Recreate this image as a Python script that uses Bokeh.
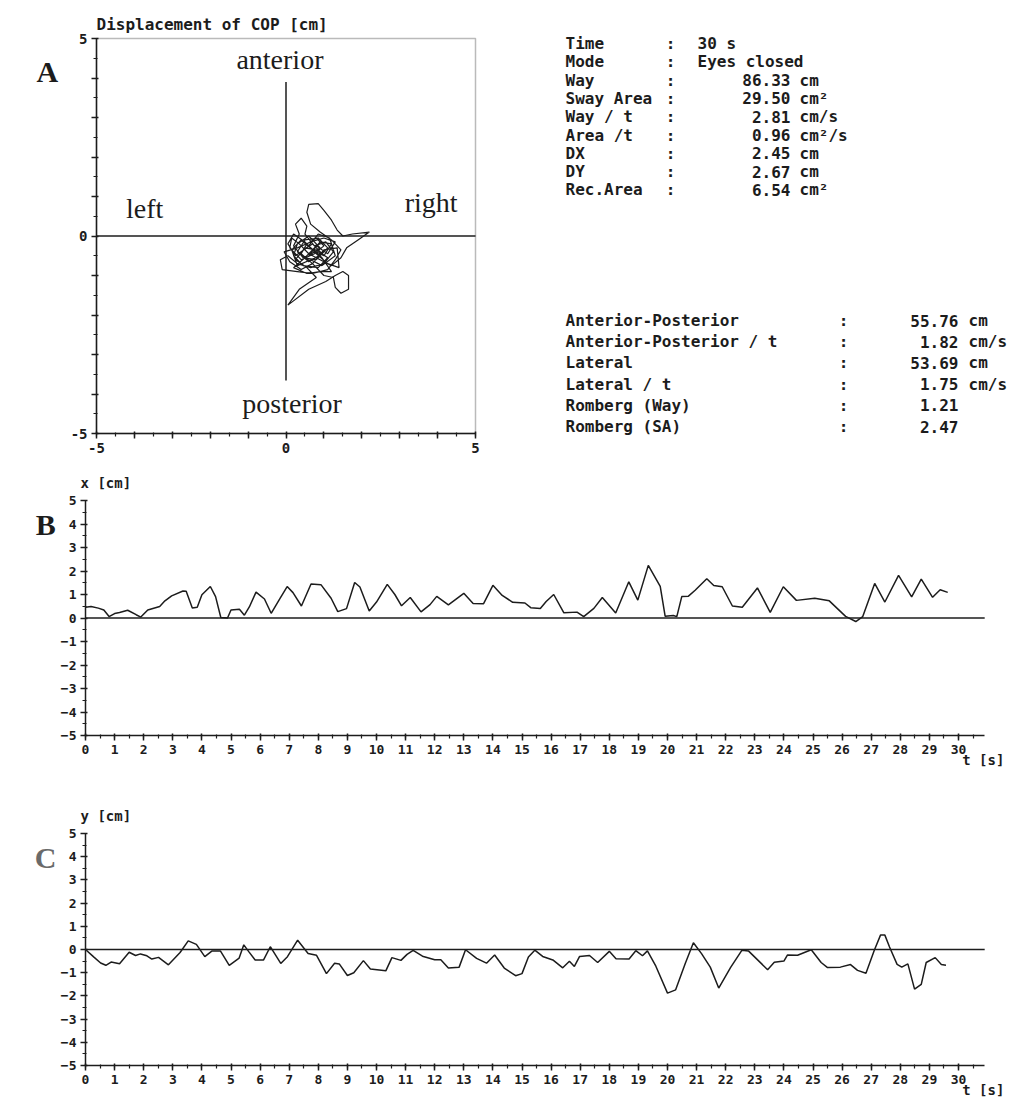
from bokeh.plotting import figure
from bokeh.layouts import column, row
from bokeh.models import Range1d, FixedTicker, Label, LinearAxis, BoxAnnotation
from bokeh.embed import file_html
from bokeh.resources import INLINE
from bokeh.core.properties import value

# ---------------- data ----------------
# Panel A: centre-of-pressure trajectory [cm]
cop_x = [0.45, 0.7, 0.95, 0.6, 0.3, 0.5, 0.85, 1.1, 0.8, 0.45, 0.2, 0.35, 0.25, 0.4, 0.55, 0.5,
         0.75, 1.05, 1.25, 1.0, 0.65, 0.3, 0.05, -0.15, -0.1, 0.3, 0.7, 1.1, 1.3, 1.45, 1.2, 0.9,
         0.65, 0.55, 0.6, 0.85, 1.0, 1.2, 1.35, 1.5, 1.75, 2.2, 1.9, 1.6, 1.45, 1.2, 0.9, 0.6,
         0.35, 0.15, 0.1, 0.4, 0.75, 1.0, 0.8, 0.55, 0.4, 0.7, 1.0, 1.25, 1.3, 1.45, 1.65, 1.65,
         1.5, 1.3, 1.05, 0.6, 0.05, 0.35, 0.8, 0.55, 0.25, 0.5, 0.8, 1.1, 0.85, 0.45, 0.2, 0.3,
         0.6, 0.9, 0.6, 0.9, 1.2, 1.0, 0.7, 0.4, 0.15, 0.3, 0.65, 0.95, 1.3, 1.15, 0.85, 0.55,
         0.25, 0.05, 0.2, 0.5, 0.8, 1.1, 1.4, 1.35, 1.0, 0.7, 0.4, 0.1, -0.05, 0.3, 0.65, 1.0,
         1.3, 1.1, 0.8, 0.5, 0.2, 0.55, 0.9, 1.2, 0.95, 0.6]
cop_y = [-0.35, -0.2, -0.45, -0.65, -0.4, -0.1, -0.05, -0.3, -0.6, -0.55, -0.25, 0.05, 0.3, 0.45,
         0.25, 0.05, -0.25, -0.15, -0.4, -0.7, -0.8, -0.7, -0.5, -0.6, -0.85, -0.9, -0.95, -0.85,
         -0.6, -0.35, -0.1, 0.1, 0.3, 0.6, 0.8, 0.82, 0.65, 0.4, 0.15, 0.0, 0.05, 0.1, -0.1, -0.3,
         -0.55, -0.75, -0.6, -0.45, -0.2, -0.05, -0.3, -0.6, -0.45, -0.25, -0.05, -0.2, -0.45,
         -0.7, -1.0, -1.05, -1.3, -1.45, -1.35, -1.0, -0.9, -1.0, -1.15, -1.35, -1.75, -1.35,
         -1.05, -0.8, -0.6, -0.3, -0.35, -0.55, -0.8, -0.75, -0.5, -0.2, 0.0, -0.3, -0.5, -0.15,
         -0.2, -0.5, -0.35, -0.1, -0.35, -0.75, -0.6, -0.75, -0.5, -0.05, 0.05, -0.3, -0.5, -0.2,
         0.05, -0.15, -0.45, -0.7, -0.8, -0.3, -0.35, -0.7, -0.85, -0.65, -0.4, -0.3, -0.15,
         -0.05, -0.15, -0.45, -0.25, -0.55, -0.8, -0.95, -0.9, -0.9, -0.55, -0.25]

# Panel B: lateral displacement x(t) [cm]
x_t = [0.0, 0.19, 0.44, 0.63, 0.81, 1.0, 1.17, 1.45, 1.74, 1.9, 2.14, 2.55, 2.73, 2.96, 3.35, 3.46,
       3.67, 3.84, 4.0, 4.29, 4.47, 4.65, 4.88, 5.0, 5.29, 5.46, 5.63, 5.86, 6.15, 6.38, 6.67, 6.93,
       7.13, 7.42, 7.75, 8.09, 8.44, 8.67, 8.97, 9.25, 9.43, 9.75, 10.0, 10.37, 10.63, 10.86, 11.16,
       11.53, 11.84, 12.07, 12.47, 13.0, 13.32, 13.68, 14.0, 14.32, 14.68, 15.1, 15.3, 15.63, 15.83,
       16.09, 16.44, 16.89, 17.12, 17.47, 17.76, 18.22, 18.67, 18.98, 19.34, 19.75, 19.92, 20.2,
       20.32, 20.49, 20.72, 20.95, 21.35, 21.59, 21.88, 22.23, 22.57, 23.09, 23.53, 23.98, 24.43,
       25.06, 25.56, 26.12, 26.47, 26.71, 27.12, 27.47, 27.94, 28.39, 28.72, 29.11, 29.37, 29.63]
x_cm = [0.46, 0.49, 0.42, 0.34, 0.06, 0.19, 0.23, 0.33, 0.14, 0.04, 0.34, 0.49, 0.73, 0.94, 1.15,
        1.14, 0.43, 0.46, 0.99, 1.34, 0.91, 0.02, 0.0, 0.34, 0.37, 0.12, 0.47, 1.1, 0.81, 0.2, 0.8,
        1.34, 1.08, 0.51, 1.45, 1.42, 0.84, 0.27, 0.4, 1.51, 1.32, 0.3, 0.68, 1.43, 1.0, 0.52, 0.87,
        0.26, 0.57, 0.92, 0.56, 1.05, 0.62, 0.61, 1.39, 0.96, 0.67, 0.64, 0.44, 0.4, 0.7, 1.0, 0.22,
        0.25, 0.06, 0.41, 0.87, 0.21, 1.54, 0.76, 2.24, 1.35, 0.07, 0.11, 0.06, 0.91, 0.93, 1.18,
        1.67, 1.38, 1.33, 0.51, 0.46, 1.28, 0.24, 1.33, 0.75, 0.84, 0.73, 0.07, -0.15, 0.06, 1.47,
        0.68, 1.81, 0.9, 1.65, 0.88, 1.2, 1.09]

# Panel C: anterior-posterior displacement y(t) [cm]
y_t = [0.0, 0.28, 0.52, 0.7, 0.88, 1.17, 1.5, 1.72, 1.89, 2.11, 2.28, 2.51, 2.85, 3.25, 3.53, 3.81,
       4.1, 4.34, 4.64, 4.94, 5.28, 5.44, 5.61, 5.83, 6.12, 6.35, 6.71, 6.94, 7.29, 7.65, 7.94, 8.28,
       8.56, 8.72, 9.0, 9.22, 9.55, 9.79, 10.32, 10.53, 10.84, 11.05, 11.26, 11.58, 12.0, 12.21,
       12.47, 12.84, 13.06, 13.44, 13.78, 14.06, 14.39, 14.78, 15.0, 15.22, 15.44, 15.71, 16.06,
       16.4, 16.63, 16.8, 16.98, 17.32, 17.6, 18.0, 18.23, 18.68, 18.91, 19.14, 19.31, 19.6, 20.0,
       20.28, 20.61, 20.89, 21.17, 21.47, 21.76, 22.17, 22.56, 22.78, 23.44, 23.67, 24.0, 24.12,
       24.47, 24.94, 25.28, 25.5, 25.94, 26.29, 26.53, 26.82, 27.11, 27.32, 27.47, 27.63, 27.89,
       28.05, 28.26, 28.49, 28.72, 28.89, 29.2, 29.41, 29.57]
y_cm = [0.0, -0.32, -0.58, -0.68, -0.54, -0.61, -0.12, -0.26, -0.19, -0.27, -0.41, -0.34, -0.66,
        -0.13, 0.37, 0.22, -0.31, -0.07, -0.07, -0.68, -0.37, 0.2, -0.09, -0.45, -0.45, 0.12, -0.6,
        -0.31, 0.4, -0.17, -0.25, -1.04, -0.59, -0.62, -1.12, -1.0, -0.48, -0.84, -0.92, -0.35,
        -0.47, -0.21, -0.04, -0.29, -0.44, -0.44, -0.8, -0.76, -0.01, -0.38, -0.59, -0.24, -0.8,
        -1.13, -1.04, -0.32, -0.03, -0.3, -0.45, -0.79, -0.51, -0.73, -0.3, -0.26, -0.56, -0.08,
        -0.4, -0.41, -0.05, -0.27, -0.06, -0.72, -1.88, -1.74, -0.6, 0.29, -0.18, -0.76, -1.66,
        -0.77, -0.03, -0.06, -0.87, -0.55, -0.5, -0.24, -0.25, -0.01, -0.56, -0.78, -0.76, -0.65,
        -0.9, -1.02, -0.02, 0.62, 0.62, 0.11, -0.64, -0.76, -0.62, -1.71, -1.5, -0.56, -0.35,
        -0.65, -0.68]

# Statistics text
stats1_labels = ["Time", "Mode", "Way", "Sway Area", "Way / t", "Area /t", "DX", "DY", "Rec.Area"]
stats1_values = ["30 s", "Eyes closed", "86.33", "29.50", "2.81", "0.96", "2.45", "2.67", "6.54"]
stats1_units = ["", "", "cm", "cm²", "cm/s", "cm²/s", "cm", "cm", "cm²"]
stats2_labels = ["Anterior-Posterior", "Anterior-Posterior / t", "Lateral", "Lateral / t",
                 "Romberg (Way)", "Romberg (SA)"]
stats2_values = ["55.76", "1.82", "53.69", "1.75", "1.21", "2.47"]
stats2_units = ["cm", "cm/s", "cm", "cm/s", "", ""]

cop_ticks = list(range(-5, 6))
cop_tick_labels = {-5: "-5", 0: "0", 5: "5"}
time_ticks = list(range(0, 31))
cm_ticks = list(range(-5, 6))

# ---------------- styling ----------------
MONO = "DejaVu Sans Mono"
SERIF = "Liberation Serif"
INK = "#1c1c1c"


def style_axis(ax, size="13px"):
    ax.axis_line_color = INK
    ax.axis_line_width = 1.5
    ax.major_tick_line_color = INK
    ax.major_tick_line_width = 1.5
    ax.minor_tick_line_color = INK
    ax.minor_tick_line_width = 1.2
    ax.major_tick_out = 5
    ax.major_tick_in = 2
    ax.minor_tick_out = 3
    ax.minor_tick_in = 1
    ax.major_label_text_font = MONO
    ax.major_label_text_font_style = "bold"
    ax.major_label_text_font_size = size
    ax.major_label_text_color = INK
    ax.major_label_standoff = 4


def mono_label(p, x, y, text, size="15px", align="left"):
    p.add_layout(Label(x=x, y=y, text=text, text_font=MONO, text_font_style="bold",
                       text_font_size=size, text_color=INK, text_align=align,
                       text_baseline="middle"))


def serif_label(p, x, y, text, size="28px", bold=False, color=INK):
    p.add_layout(Label(x=x, y=y, text=text, text_font=SERIF,
                       text_font_style="bold" if bold else "normal",
                       text_font_size=size, text_color=color, text_align="center",
                       text_baseline="middle"))


def canvas_ranges(width, height, x0, x1, px0, px1, y0, y1, py0, py1):
    """Ranges so that data x0->px0, x1->px1 and y0->py0, y1->py1 (pixels from top-left)."""
    sx = (px1 - px0) / (x1 - x0)
    sy = (py0 - py1) / (y1 - y0)
    xr = Range1d(x0 - px0 / sx, x1 + (width - px1) / sx)
    yr = Range1d(y0 - (height - py0) / sy, y1 + py1 / sy)
    return xr, yr


def bare_figure(width, height, xr, yr):
    p = figure(width=width, height=height, x_range=xr, y_range=yr,
               output_backend="svg", toolbar_location=None,
               x_axis_location=None, y_axis_location=None,
               min_border_left=0, min_border_right=0, min_border_top=0, min_border_bottom=0)
    p.grid.visible = False
    p.outline_line_color = None
    return p


# ---------------- Panel A ----------------
WA, HA = 530, 460
xrA, yrA = canvas_ranges(WA, HA, -5, 5, 96, 475, -5, 5, 433, 38)
pA = bare_figure(WA, HA, xrA, yrA)
half = [i * 0.5 for i in range(-10, 11)]
axA_x = LinearAxis(fixed_location=-5, bounds=(-5, 5),
                   ticker=FixedTicker(ticks=cop_ticks, minor_ticks=half))
axA_y = LinearAxis(fixed_location=-5, bounds=(-5, 5),
                   ticker=FixedTicker(ticks=cop_ticks, minor_ticks=half))
for ax in (axA_x, axA_y):
    ax.major_label_overrides = {t: cop_tick_labels.get(t, "") for t in cop_ticks}
    style_axis(ax, "14px")
pA.add_layout(axA_x, "below")
pA.add_layout(axA_y, "left")
pA.add_layout(BoxAnnotation(left=-5, right=5, bottom=-5, top=5, fill_alpha=0,
                            line_color=INK, line_width=1.5))
pA.segment(x0=[-5], y0=[0], x1=[5], y1=[0], line_color=INK, line_width=1.5)
pA.segment(x0=[0], y0=[3.9], x1=[0], y1=[-3.66], line_color=INK, line_width=1.5)
pA.line(cop_x, cop_y, line_color=INK, line_width=1.2)

serif_label(pA, -0.16, 4.46, "anterior")
serif_label(pA, 0.16, -4.24, "posterior")
serif_label(pA, -3.73, 0.69, "left")
serif_label(pA, 3.83, 0.84, "right")
serif_label(pA, -6.3, 4.16, "A", size="30px", bold=True)
mono_label(pA, -5.0, 5.35, "Displacement of COP  [cm]", size="16px")

# ---------------- statistics text (pixel coordinates) ----------------
WT = 1022 - WA
pT = bare_figure(WT, HA, Range1d(WA, 1022), Range1d(HA, 0))

TXT = dict(text_font=value(MONO), text_font_style="bold", text_font_size="16px",
           text_color=INK, text_baseline="middle")

n1 = len(stats1_labels)
y1 = [43 + 18.3 * i for i in range(n1)]
pT.text(x=[565] * n1, y=y1, text=stats1_labels, text_align="left", **TXT)
pT.text(x=[670] * n1, y=y1, text=[":"] * n1, text_align="center", **TXT)
pT.text(x=[697] * 2, y=y1[:2], text=stats1_values[:2], text_align="left", **TXT)
pT.text(x=[790] * (n1 - 2), y=y1[2:], text=stats1_values[2:], text_align="right", **TXT)
pT.text(x=[799] * (n1 - 2), y=y1[2:], text=stats1_units[2:], text_align="left", **TXT)

n2 = len(stats2_labels)
y2 = [320 + 21.2 * i for i in range(n2)]
pT.text(x=[565] * n2, y=y2, text=stats2_labels, text_align="left", **TXT)
pT.text(x=[843] * n2, y=y2, text=[":"] * n2, text_align="center", **TXT)
pT.text(x=[958] * n2, y=y2, text=stats2_values, text_align="right", **TXT)
pT.text(x=[968] * n2, y=y2, text=stats2_units, text_align="left", **TXT)


# ---------------- time series panels ----------------
PX_PER_S = 29.1


def series_panel(height, py_top, py_bot, t, v, ylab, letter, letter_color):
    xr, yr = canvas_ranges(1022, height, 0, 30, 85, 85 + 30 * PX_PER_S, -5, 5, py_bot, py_top)
    p = bare_figure(1022, height, xr, yr)
    ax_x = LinearAxis(fixed_location=-5, bounds=(0, 30.9),
                      ticker=FixedTicker(ticks=time_ticks, minor_ticks=[i * 0.5 for i in range(62)]))
    ax_y = LinearAxis(fixed_location=0, bounds=(-5, 5),
                      ticker=FixedTicker(ticks=cm_ticks, minor_ticks=[i * 0.5 for i in range(-10, 11)]))
    style_axis(ax_x, "13px")
    style_axis(ax_y, "13px")
    p.add_layout(ax_x, "below")
    p.add_layout(ax_y, "left")
    p.segment(x0=[0], y0=[0], x1=[30.9], y1=[0], line_color=INK, line_width=1.4)
    p.line(t, v, line_color=INK, line_width=1.5)
    upp = 10.0 / (py_bot - py_top)  # data units per pixel (y)
    mono_label(p, -0.17, 5 + 18 * upp, ylab, size="14px")
    mono_label(p, 30.85, -5 - 24 * upp, "t [s]", size="14px", align="center")
    serif_label(p, -1.37, 5 - 24 * upp, letter, size="30px", bold=True, color=letter_color)
    return p


pB = series_panel(330, 40, 275, x_t, x_cm, "x [cm]", "B", INK)
pC = series_panel(308, 43, 275, y_t, y_cm, "y [cm]", "C", "#6a6a6a")

layout = column(row(pA, pT), pB, pC)
open("out.html", "w").write(file_html(layout, INLINE))
